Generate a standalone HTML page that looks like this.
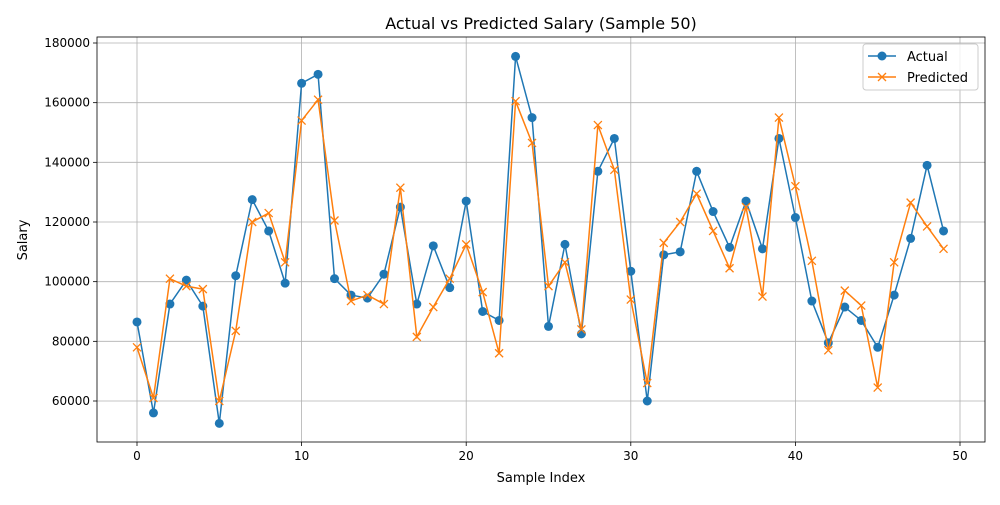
<!DOCTYPE html>
<html><head><meta charset="utf-8"><style>
body{margin:0;background:#fff;font-family:"Liberation Sans","DejaVu Sans",sans-serif}
svg text{font-family:"DejaVu Sans","Liberation Sans",sans-serif}
</style></head><body>
<svg id="chart" width="1000" height="500" xmlns="http://www.w3.org/2000/svg"></svg>
<script>
const xTicks=[0,10,20,30,40,50];
const yTicks=[60000,80000,100000,120000,140000,160000,180000];
const actual=[86500,56000,92500,100500,91800,52500,102000,127500,117000,99500,166500,169500,101000,95500,94500,102500,125000,92500,112000,98000,127000,90000,87000,175500,155000,85000,112500,82500,137000,148000,103500,60000,109000,110000,137000,123500,111500,127000,111000,148000,121500,93500,79500,91500,87000,78000,95500,114500,139000,117000];
const predicted=[78000,61000,101000,98500,97500,60000,83500,120000,123000,106500,154000,161000,120500,93500,95500,92500,131500,81500,91500,101000,112500,96500,76000,160500,146500,98500,106500,84000,152500,137500,94000,66000,113000,120000,129500,117000,104500,125000,95000,155000,132000,107000,77000,97000,92000,64500,106500,126500,118500,111000];
const L=97,R=985,T=37,B=442;
const sx=v=>137+(v-0)*(960-137)/50;
const sy=v=>401-(v-60000)*(401-43)/120000;
const svg=document.getElementById('chart');
const NS='http://www.w3.org/2000/svg';
function mk(tag,attrs,parent){const e=document.createElementNS(NS,tag);for(const k in attrs)e.setAttribute(k,attrs[k]);(parent||svg).appendChild(e);return e;}
// grid
xTicks.forEach(t=>{
 const g=mk('line',{x1:sx(t),x2:sx(t),y1:T,y2:B,stroke:'#b0b0b0','stroke-width':0.8});
 
 
 const tk=mk('line',{x1:sx(t),x2:sx(t),y1:B,y2:B+4,stroke:'#000','stroke-width':0.8});
 
 
 const tx=mk('text',{x:sx(t),y:B+18,'font-size':12,'text-anchor':'middle'});tx.textContent=t;
 
 
});
yTicks.forEach(t=>{
 const g=mk('line',{x1:L,x2:R,y1:sy(t),y2:sy(t),stroke:'#b0b0b0','stroke-width':0.8});
 
 
 const tk=mk('line',{x1:L-4,x2:L,y1:sy(t),y2:sy(t),stroke:'#000','stroke-width':0.8});
 
 
 const tx=mk('text',{x:L-7,y:sy(t)+4,'font-size':12,'text-anchor':'end'});tx.textContent=t;
 
 
});
function series(data,color,marker,name){
 const pts=data.map((v,i)=>sx(i)+','+sy(v)).join(' ');
 const pl=mk('polyline',{points:pts,fill:'none',stroke:color,'stroke-width':1.5});
 
 
 data.forEach((v,i)=>{
  let m;
  if(marker==='o'){m=mk('circle',{cx:sx(i),cy:sy(v),r:4.5,fill:color});}
  else{const x=sx(i),y=sy(v),d=4;m=mk('path',{d:`M${x-d},${y-d}L${x+d},${y+d}M${x-d},${y+d}L${x+d},${y-d}`,stroke:color,'stroke-width':1.3,fill:'none'});}
  
  
 });
}
series(actual,'#1f77b4','o','actual');
series(predicted,'#ff7f0e','x','predicted');
const fr=mk('rect',{x:L,y:T,width:R-L,height:B-T,fill:'none',stroke:'#000','stroke-width':0.8});


</script>
<svg style="position:absolute;left:0;top:0" width="1000" height="500" xmlns="http://www.w3.org/2000/svg">
<text x="541" y="29" font-size="16" text-anchor="middle">Actual vs Predicted Salary (Sample 50)</text>
<text x="541" y="482" font-size="13" text-anchor="middle">Sample Index</text>
<text x="27" y="240" font-size="13" text-anchor="middle" transform="rotate(-90 27 240)">Salary</text>
<g>
<rect x="863" y="44" width="115" height="46" rx="3" fill="#fff" fill-opacity="0.8" stroke="#ccc"/>
<g>
<line x1="868" y1="56" x2="896" y2="56" stroke="#1f77b4" stroke-width="1.5"/><circle cx="882" cy="56" r="4.5" fill="#1f77b4"/>
<text x="907" y="61" font-size="13">Actual</text></g>
<g>
<line x1="868" y1="77" x2="896" y2="77" stroke="#ff7f0e" stroke-width="1.5"/><path d="M878,73L886,81M878,81L886,73" stroke="#ff7f0e" stroke-width="1.3"/>
<text x="907" y="82" font-size="13">Predicted</text></g>
</g>
</svg>
</body></html>
